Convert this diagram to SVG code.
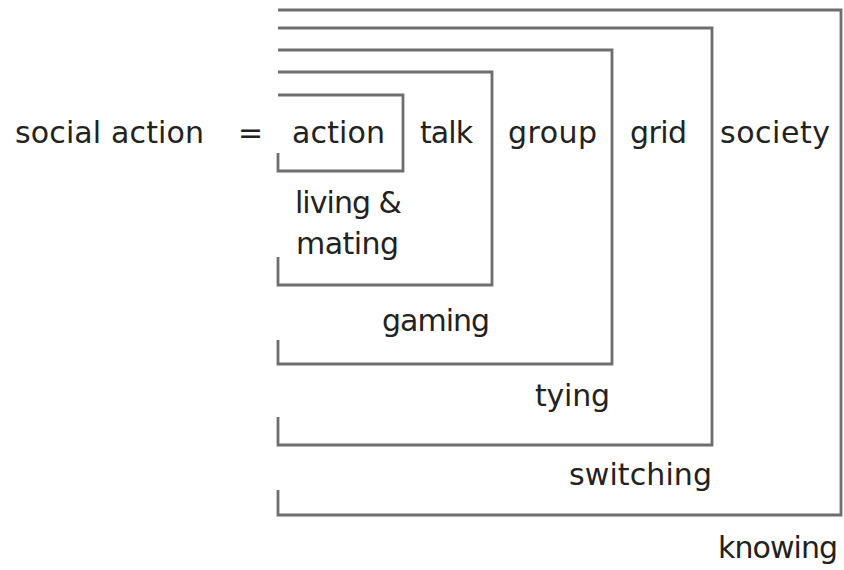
<svg xmlns="http://www.w3.org/2000/svg" width="844" height="570" viewBox="0 0 844 570">
<style>
.b{fill:none;stroke:#6e6e6e;stroke-width:2.8;stroke-linejoin:miter}
.t{font-family:"DejaVu Sans",Verdana,sans-serif;font-size:30px;fill:#222}
</style>
<rect width="844" height="570" fill="#fff"/>
<g id="connectors">
<path id="box-action" class="b" d="M278,95 H403 V171 H278 V153"/>
<path id="box-talk" class="b" d="M278,72 H492 V285 H278 V257"/>
<path id="box-group" class="b" d="M278,50 H612 V364 H278 V340"/>
<path id="box-grid" class="b" d="M278,28 H712 V445 H278 V417"/>
<path id="box-society" class="b" d="M278,10 H841 V515 H278 V490"/>
</g>
<g id="label-social"><text class="t" x="15" y="143" textLength="189">social action</text></g>
<g id="label-eq"><text class="t" x="238" y="143">=</text></g>
<g id="node-action"><text class="t" x="292" y="143" textLength="93">action</text></g>
<g id="node-talk"><text class="t" x="420" y="143" textLength="53">talk</text></g>
<g id="node-group"><text class="t" x="508" y="143" textLength="89">group</text></g>
<g id="node-grid"><text class="t" x="630" y="143" textLength="57">grid</text></g>
<g id="node-society"><text class="t" x="720" y="143" textLength="110">society</text></g>
<g id="node-living"><text class="t" x="295" y="213" textLength="107">living &amp;</text><text class="t" x="296" y="254" textLength="103">mating</text></g>
<g id="node-gaming"><text class="t" x="382" y="331" textLength="108">gaming</text></g>
<g id="node-tying"><text class="t" x="535" y="406" textLength="75">tying</text></g>
<g id="node-switching"><text class="t" x="569" y="485" textLength="143">switching</text></g>
<g id="node-knowing"><text class="t" x="718" y="558" textLength="120">knowing</text></g>
</svg>
